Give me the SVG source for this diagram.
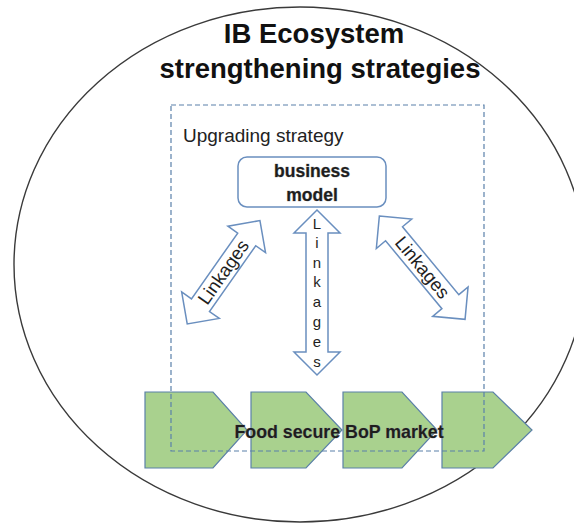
<svg xmlns="http://www.w3.org/2000/svg" width="574" height="524" viewBox="0 0 574 524">
  <style>
    .ring { fill: #ffffff; stroke: #3a3a3a; stroke-width: 1.4; }
    .title { font-family: "Liberation Sans", Arial, sans-serif; font-weight: bold; font-size: 27.5px; fill: #111111; text-anchor: middle; }
    .frame { fill: none; stroke: #5a80aa; stroke-width: 1.2; stroke-dasharray: 5 3; }
    .label { font-family: "Liberation Sans", Arial, sans-serif; fill: #222222; }
    .box { fill: #ffffff; stroke: #6a8fbf; stroke-width: 1.5; }
    .bold { font-family: "Liberation Sans", Arial, sans-serif; font-weight: bold; fill: #1e1e1e; text-anchor: middle; stroke: #9a9a9a; stroke-width: 0.6; paint-order: stroke; }
    .chev { fill: #a9d18e; stroke: #5b80a8; stroke-width: 1.2; }
    .dbl { fill: #ffffff; stroke: #6a8fbf; stroke-width: 1.5; stroke-linejoin: miter; }
    .lnk { font-family: "Liberation Sans", Arial, sans-serif; font-size: 18.5px; fill: #1e1e1e; text-anchor: middle; }
    .vlnk { font-family: "Liberation Sans", Arial, sans-serif; font-size: 15px; fill: #1e1e1e; text-anchor: middle; }
  </style>

  <!-- ecosystem boundary -->
  <g id="ecosystem">
    <ellipse class="ring" cx="300" cy="264.5" rx="286" ry="257.5"/>
    <text class="title" x="314" y="43">IB Ecosystem</text>
    <text class="title" x="320" y="78">strengthening strategies</text>
  </g>

  <!-- value chain chevrons -->
  <g id="value-chain">
    <polygon class="chev" points="145,392 213,392 247,430 213,468 145,468"/>
    <polygon class="chev" points="251,392 306,392 342,430 306,468 251,468"/>
    <polygon class="chev" points="343,392 402,392 437,430 402,468 343,468"/>
    <polygon class="chev" points="442,392 493,392 532,430 493,468 442,468"/>
  </g>

  <!-- upgrading strategy frame -->
  <g id="upgrading-strategy">
    <rect class="frame" x="171" y="105" width="313" height="346"/>
    <text class="label" x="183" y="142" font-size="19">Upgrading strategy</text>
  </g>

  <g id="market-label">
    <text class="bold" x="339" y="438" font-size="17.8">Food secure BoP market</text>
  </g>

  <!-- business model node -->
  <g id="business-model">
    <rect class="box" x="238" y="157" width="148" height="50" rx="9" ry="9"/>
    <text class="bold" x="312" y="177" font-size="17.5">business</text>
    <text class="bold" x="312" y="201" font-size="17.5">model</text>
  </g>

  <!-- double-headed linkage arrows -->
  <g id="connectors">
    <g transform="translate(223.6,272.3) rotate(-54.9)">
      <polygon class="dbl" points="-63.2,0 -40.2,-23 -40.2,-11 40.2,-11 40.2,-23 63.2,0 40.2,23 40.2,11 -40.2,11 -40.2,23"/>
      <text class="lnk" x="0" y="6">Linkages</text>
    </g>
    <g transform="translate(317,292.5)">
      <polygon class="dbl" points="0,-82.5 23,-59.5 11,-59.5 11,59.5 23,59.5 0,82.5 -23,59.5 -11,59.5 -11,-59.5 -23,-59.5"/>
      <text class="vlnk" x="0" y="-63.5">L</text>
      <text class="vlnk" x="0" y="-44.5">i</text>
      <text class="vlnk" x="0" y="-24.5">n</text>
      <text class="vlnk" x="0" y="-5.5">k</text>
      <text class="vlnk" x="0" y="14.5">a</text>
      <text class="vlnk" x="0" y="34.5">g</text>
      <text class="vlnk" x="0" y="54.5">e</text>
      <text class="vlnk" x="0" y="74.5">s</text>
    </g>
    <g transform="translate(422.2,267.7) rotate(50.3)">
      <polygon class="dbl" points="-67.1,0 -44.1,-23 -44.1,-11 44.1,-11 44.1,-23 67.1,0 44.1,23 44.1,11 -44.1,11 -44.1,23"/>
      <text class="lnk" x="0" y="6">Linkages</text>
    </g>
  </g>
</svg>
